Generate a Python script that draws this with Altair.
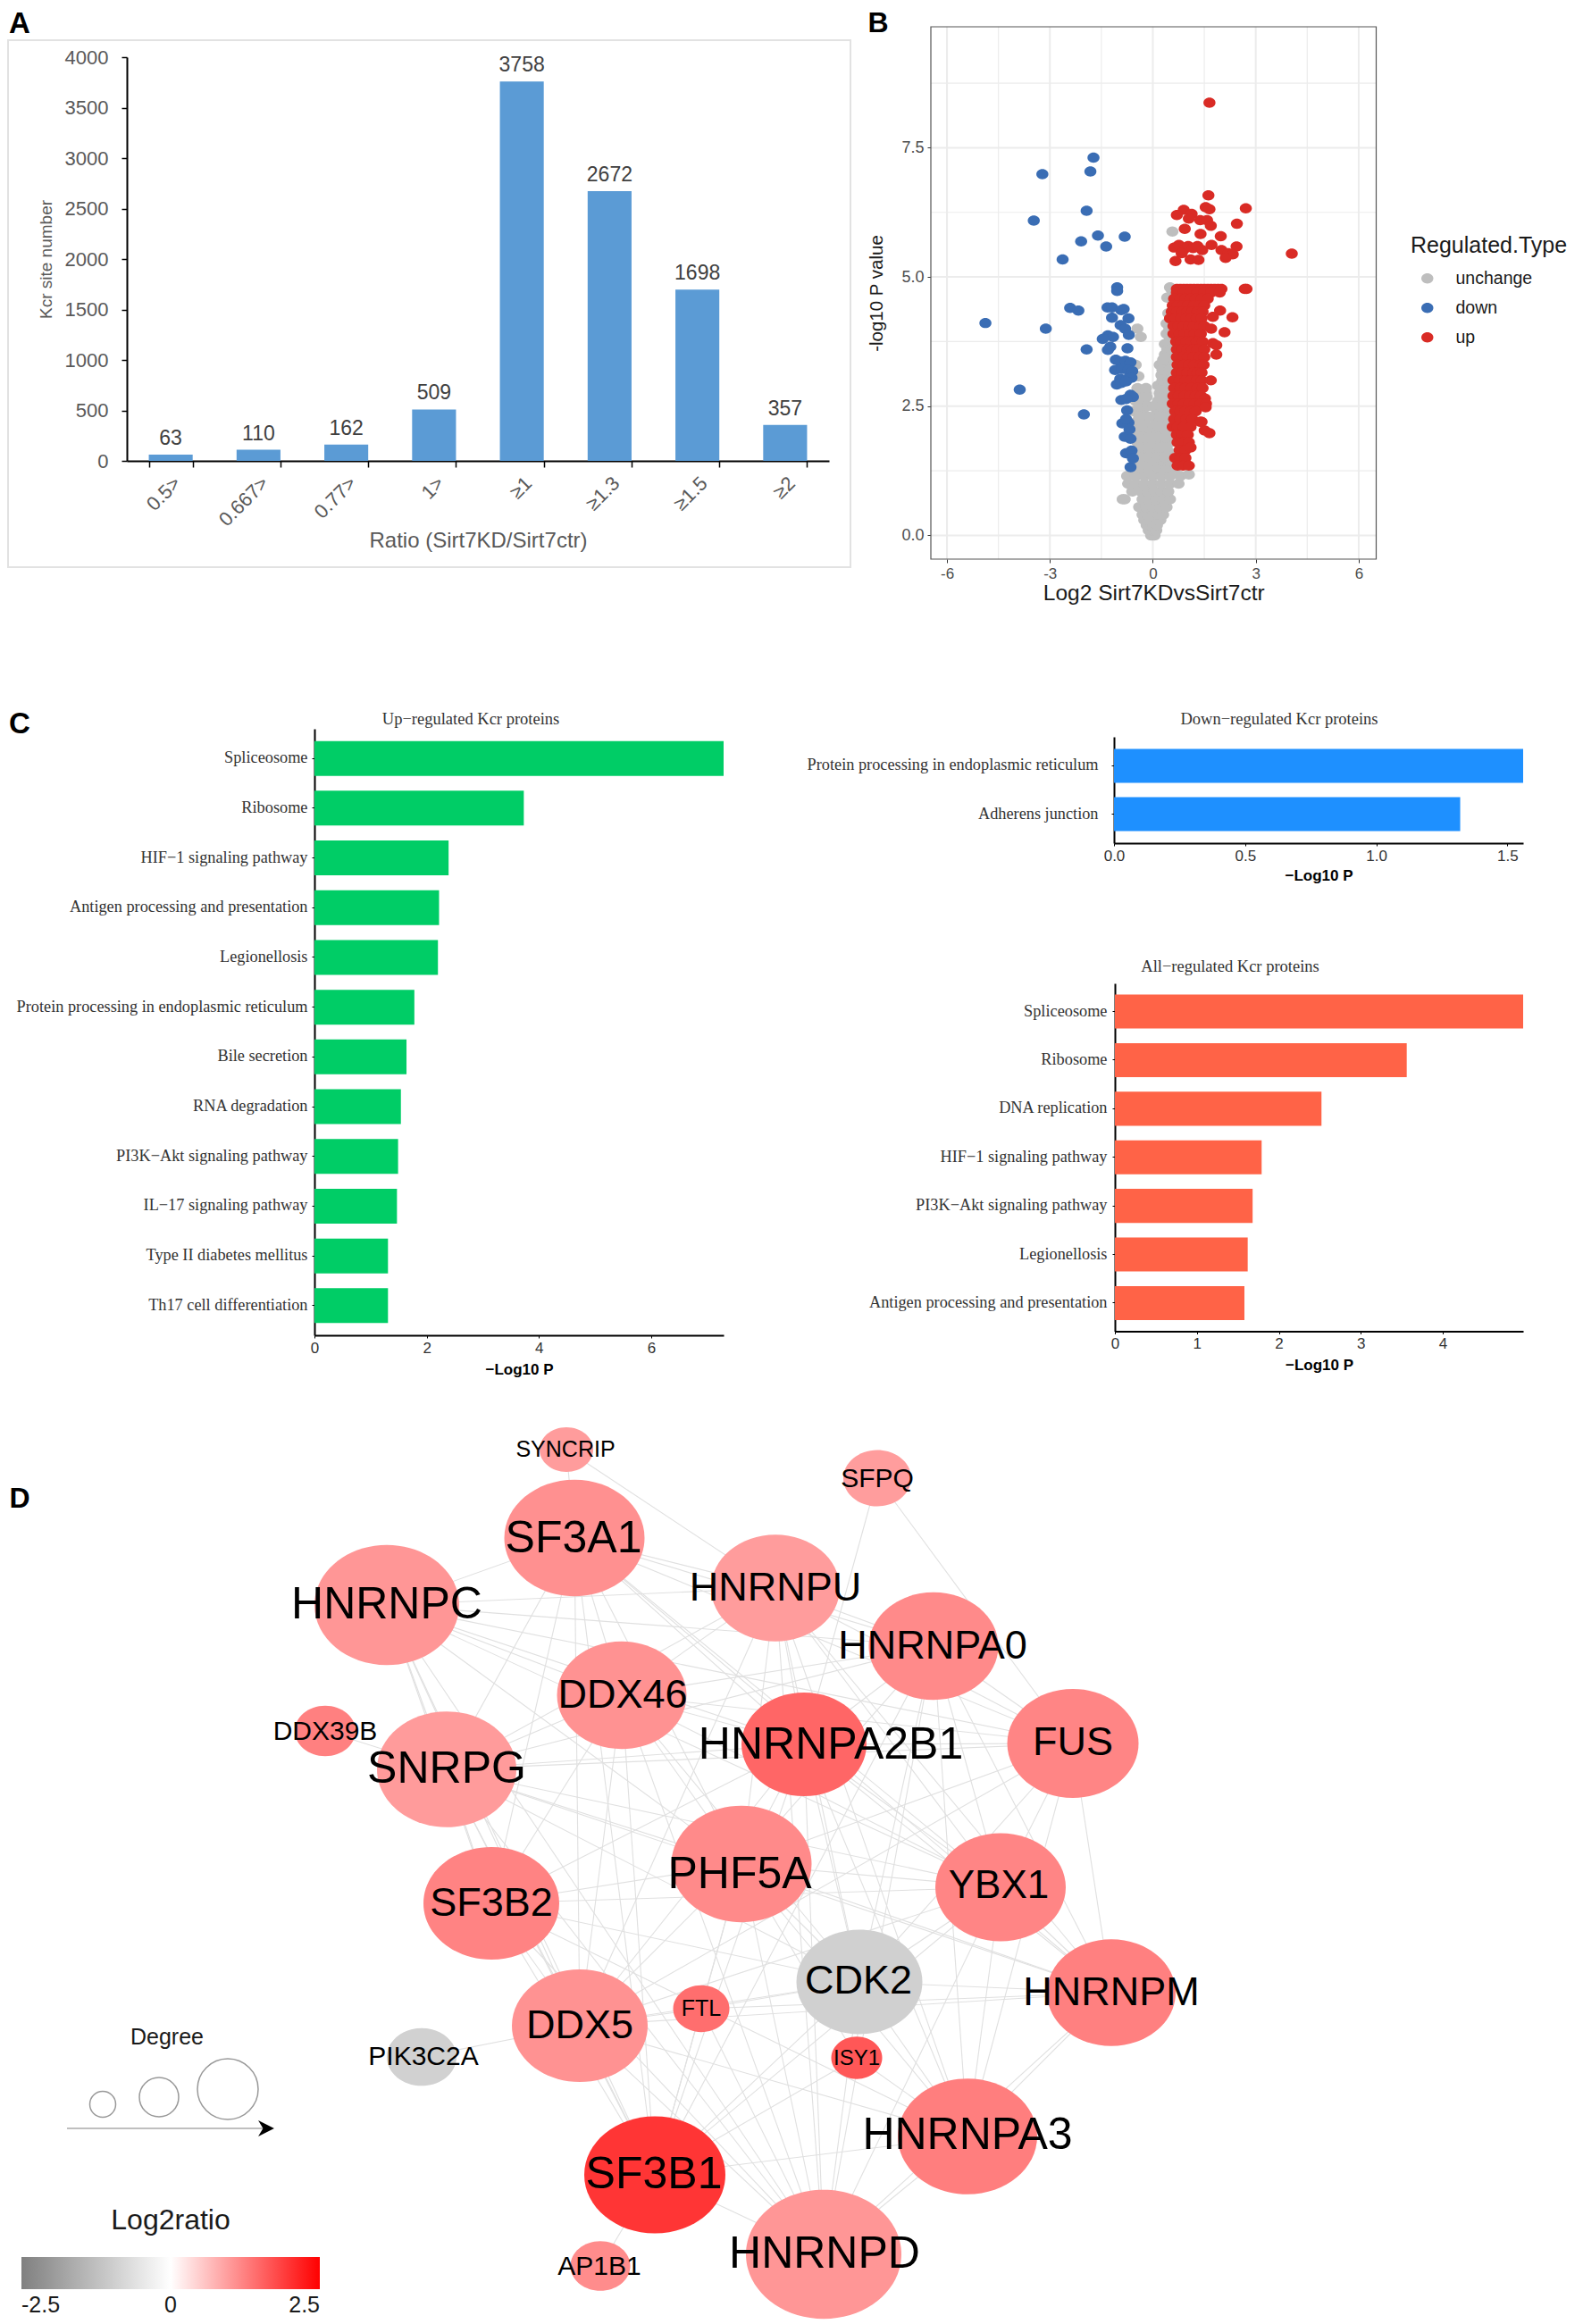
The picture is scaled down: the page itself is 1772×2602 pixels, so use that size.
import altair as alt
import pandas as pd

W, H = 1756, 2590
SANS = "Liberation Sans"
SERIF = "Liberation Serif"

# ---------- Panel A ----------
ratio_cats = ["0.5>", "0.667>", "0.77>", "1>", "≥1", "≥1.3", "≥1.5", "≥2"]
ratio_vals = [63, 110, 162, 509, 3758, 2672, 1698, 357]

# ---------- Panel B ----------
down_x = [-1.73,-1.82,-3.22,-1.93,-3.47,-1.6,-0.82,-2.09,-1.36,-2.63,-1.04,-1.04,-2.41,-2.17,-1.32,-1.19,-0.85,-0.92,-1.19,-0.71,-4.88,-3.12,-0.94,-0.81,-0.7,-1.31,-1.16,-1.46,-1.93,-1.24,-1.31,-0.74,-1.08,-0.95,-0.8,-0.65,-1.1,-0.9,-0.72,-0.6,-0.95,-0.75,-0.62,-1.05,-0.92,-0.78,-3.88,-0.92,-0.65,-0.58,-0.78,-2.01,-0.75,-0.71,-0.89,-0.78,-0.82,-0.65,-0.78,-0.62,-0.65,-0.58,-0.68]
down_y = [7.31,7.04,6.99,6.28,6.09,5.8,5.78,5.69,5.59,5.34,4.8,4.73,4.4,4.35,4.41,4.41,4.38,4.36,4.21,4.2,4.11,4.0,4.07,4.0,3.88,3.87,3.84,3.8,3.6,3.65,3.59,3.62,3.4,3.36,3.38,3.35,3.2,3.22,3.2,3.18,3.03,3.03,3.05,2.92,2.95,2.98,2.82,2.62,2.72,2.68,2.64,2.34,2.42,2.18,2.17,2.25,1.91,1.87,1.59,1.64,1.32,1.49,2.05]

up_x = [1.65,1.62,1.54,1.65,2.71,0.9,0.7,1.13,1.05,1.38,1.58,1.69,2.45,0.93,1.39,1.98,1.71,2.44,4.05,0.62,0.76,0.9,1.03,1.17,1.3,1.44,0.84,1.1,1.33,0.66,2.0,2.2,2.33,2.12,
 0.70,0.80,0.90,1.0,1.1,1.2,1.3,1.4,1.5,1.6,1.7,1.8,1.9,2.0,2.68,2.73,
 0.7,0.9,1.1,1.3,1.5,1.7,1.95,
 0.62,0.8,0.95,1.1,1.25,1.42,1.6,
 0.58,0.72,0.88,1.02,1.2,1.35,1.5,
 0.55,0.7,0.85,1.0,1.15,1.3,1.45,1.96,
 0.5,0.65,0.82,0.98,1.12,1.28,1.42,1.75,2.32,
 0.6,0.75,0.9,1.05,1.2,1.38,1.5,
 0.6,0.78,0.92,1.08,1.22,1.4,1.7,2.09,
 0.68,0.82,0.98,1.12,1.28,1.45,1.75,1.85,
 0.7,0.85,1.0,1.15,1.3,1.5,
 0.7,0.88,1.02,1.18,1.35,1.5,1.85,
 0.72,0.9,1.05,1.2,1.38,1.48,
 0.7,0.85,1.0,1.18,1.3,1.42,
 0.6,0.78,0.95,1.1,1.28,1.42,1.69,
 0.62,0.8,0.95,1.12,1.3,1.45,
 0.6,0.75,0.92,1.08,1.25,1.4,1.52,
 0.58,0.75,0.9,1.05,1.22,1.4,1.55,
 0.65,0.8,0.95,1.1,1.25,1.54,
 0.62,0.8,0.98,1.15,1.38,
 0.58,0.72,0.9,1.1,1.42,
 0.7,0.85,1.02,1.51,1.65,
 0.72,0.88,1.05,
 0.78,0.95,1.1,
 0.65,0.8,0.95,
 0.72,0.88,1.05]
up_y = [8.37,6.58,6.35,6.31,6.33,6.3,6.2,6.22,6.13,6.1,6.1,5.99,6.03,5.93,5.83,5.79,5.62,5.59,5.45,5.57,5.62,5.53,5.6,5.56,5.6,5.52,5.46,5.34,5.33,5.31,5.52,5.46,5.44,5.37,
 4.77,4.77,4.77,4.77,4.77,4.77,4.77,4.77,4.77,4.77,4.77,4.77,4.77,4.77,4.77,4.77,
 4.7,4.7,4.7,4.7,4.7,4.7,4.7,
 4.58,4.58,4.58,4.58,4.58,4.58,4.58,
 4.45,4.45,4.45,4.45,4.45,4.45,4.45,
 4.33,4.33,4.33,4.33,4.33,4.33,4.33,4.35,
 4.2,4.2,4.2,4.2,4.2,4.2,4.2,4.23,4.22,
 4.05,4.05,4.05,4.05,4.05,4.05,4.05,
 3.9,3.9,3.9,3.9,3.9,3.9,4.0,3.93,
 3.75,3.75,3.75,3.75,3.75,3.75,3.72,3.68,
 3.6,3.6,3.6,3.6,3.6,3.6,
 3.45,3.45,3.45,3.45,3.45,3.45,3.5,
 3.3,3.3,3.3,3.3,3.3,3.3,
 3.15,3.15,3.15,3.15,3.15,3.15,
 3.0,3.0,3.0,3.0,3.0,3.0,3.0,
 2.85,2.85,2.85,2.85,2.85,2.85,
 2.7,2.7,2.7,2.7,2.7,2.7,2.65,
 2.55,2.55,2.55,2.55,2.55,2.55,2.55,
 2.4,2.4,2.4,2.4,2.4,2.48,
 2.25,2.25,2.25,2.25,2.2,
 2.1,2.1,2.1,2.1,2.2,
 1.95,1.95,1.95,2.03,1.98,
 1.8,1.8,1.8,
 1.65,1.65,1.7,
 1.5,1.5,1.5,
 1.35,1.35,1.35]

flat_x = [0.57,-0.45,-0.35,-0.42,-0.5,
 -0.05,0,0.05,-0.12,-0.05,0.02,0.1,-0.18,-0.08,0.02,0.12,-0.25,-0.12,0,0.12,0.22,-0.3,-0.15,0,0.15,0.3,
 -0.4,-0.2,0,0.2,0.4,-0.88,-0.82,-0.3,-0.1,0.1,0.3,0.5,-0.6,-0.35,-0.15,0.05,0.25,0.45,
 -0.72,-0.5,-0.25,0,0.25,0.5,0.75,-0.75,-0.5,-0.25,0,0.25,0.5,0.8,1.05,
 -0.6,-0.35,-0.1,0.15,0.4,0.65,-0.5,-0.25,0,0.25,0.48,-0.42,-0.2,0.05,0.3,0.5,
 -0.45,-0.25,0,0.25,0.5,-0.5,-0.2,0.05,0.3,0.5,-0.48,-0.25,0.1,0.35,0.48,
 -0.55,-0.3,0.12,0.32,0.5,-0.5,-0.25,0.15,0.35,0.48,-0.45,-0.2,0.2,0.4,
 0.15,0.35,0.55,0.25,0.45,0.6,0.2,0.35,0.5,0.35,0.5,0.6,0.35,0.5,0.4,0.55,0.4,0.55,0.45,0.42,0.5,0.55,0.5,
 -0.3,-0.12,0.12,0.35,-0.35,-0.1,0.18,0.4,-0.32,-0.12,0.15,0.38,-0.38,-0.1,0.18,0.42,-0.4,-0.12,0.2,0.42,-0.4,-0.15,0.02,0.22,0.42,
 -0.42,-0.18,0.22,-0.45,-0.2,0.24,-0.38,-0.32,0.28,0.45,0.4,0.28,0.48,0.45,0.3,0.42,0.52,0.5,0.48,0.55]
flat_y = [5.88,4.0,3.84,3.08,3.3,
 0.0,0.0,0.0,0.1,0.1,0.1,0.1,0.2,0.2,0.2,0.2,0.3,0.3,0.3,0.3,0.3,0.4,0.4,0.4,0.4,0.4,
 0.55,0.55,0.55,0.55,0.55,0.7,0.7,0.7,0.7,0.7,0.7,0.7,0.85,0.85,0.85,0.85,0.85,0.85,
 1.0,1.0,1.0,1.0,1.0,1.0,1.0,1.15,1.15,1.15,1.15,1.15,1.15,1.15,1.18,
 1.3,1.3,1.3,1.3,1.3,1.3,1.45,1.45,1.45,1.45,1.45,1.6,1.6,1.6,1.6,1.6,
 1.8,1.8,1.8,1.8,1.8,2.0,2.0,2.0,2.0,2.0,2.2,2.2,2.2,2.2,2.2,
 2.4,2.4,2.4,2.4,2.4,2.6,2.6,2.6,2.6,2.6,2.75,2.75,2.75,2.75,
 2.9,2.9,2.9,3.1,3.1,3.1,3.3,3.3,3.3,3.5,3.5,3.5,3.7,3.7,3.9,3.9,4.1,4.1,4.3,4.6,4.6,4.75,4.8,
 1.52,1.52,1.52,1.52,1.7,1.7,1.7,1.7,1.9,1.9,1.9,1.9,2.1,2.1,2.1,2.1,2.3,2.3,2.3,2.3,2.5,2.5,2.5,2.5,2.5,
 2.65,2.68,2.7,2.85,2.85,2.85,2.3,2.1,3.0,3.0,3.2,3.2,3.2,3.4,3.4,3.6,3.6,3.8,4.0,4.2]

grid_major_x = [-6, -3, 0, 3, 6]
grid_minor_x = [-4.5, -1.5, 1.5, 4.5]
grid_major_y = [0, 2.5, 5, 7.5]
grid_minor_y = [1.25, 3.75, 6.25, 8.75]

# ---------- Panel C ----------
up_terms = ["Spliceosome", "Ribosome", "HIF−1 signaling pathway", "Antigen processing and presentation", "Legionellosis",
            "Protein processing in endoplasmic reticulum", "Bile secretion", "RNA degradation", "PI3K−Akt signaling pathway",
            "IL−17 signaling pathway", "Type II diabetes mellitus", "Th17 cell differentiation"]
up_vals = [7.29, 3.73, 2.39, 2.22, 2.2, 1.78, 1.64, 1.54, 1.49, 1.47, 1.31, 1.31]
dn_terms = ["Protein processing in endoplasmic reticulum", "Adherens junction"]
dn_vals = [1.56, 1.32]
all_terms = ["Spliceosome", "Ribosome", "DNA replication", "HIF−1 signaling pathway", "PI3K−Akt signaling pathway",
             "Legionellosis", "Antigen processing and presentation"]
all_vals = [4.98, 3.56, 2.52, 1.79, 1.68, 1.62, 1.58]

# ---------- Panel D (network layout coordinates) ----------
node_names = ["SYNCRIP","SF3A1","HNRNPC","DDX46","DDX39B","SNRPG","SF3B2","DDX5","FTL","PIK3C2A","SF3B1","AP1B1","SFPQ",
              "HNRNPU","HNRNPA0","HNRNPA2B1","FUS","PHF5A","YBX1","CDK2","HNRNPM","ISY1","HNRNPA3","HNRNPD"]
node_x = [634,643,433,696,364,500,550,649,785,472,733,672,982,868,1045,900,1201,830,1120,962,1244,959,1083,922]
node_y = [1623,1722,1797,1898,1938,1981,2131,2268,2249,2303,2435,2537,1655,1778,1843,1953,1952,2087,2113,2219,2231,2304,2392,2524]
node_w = [60,157,162,145,68,156,152,152,63,78,158,67,76,144,145,140,147,157,146,141,144,57,156,174]
node_log2 = [0.97,1.09,1.03,1.07,1.25,0.98,1.22,1.07,1.42,-0.9,1.98,1.13,0.96,0.97,1.15,1.5,1.2,1.15,1.2,-0.93,1.25,1.65,1.26,1.03]
label_x = [633,642,433,697,364,500,550,649,785,474,732,671,982,868,1044,930,1201,828,1118,961,1244,959,1083,923]
label_y = [1623,1723,1797,1898,1939,1981,2131,2268,2249,2303,2435,2538,1656,1778,1843,1954,1951,2099,2112,2218,2231,2305,2391,2524]
label_fs = [25,50,50,45,30,50,45,45,25,30,50,30,30,45,45,50,45,50,44,45,45,24,50,50]

edges = {
 "SYNCRIP": ["HNRNPU","SF3A1"],
 "SFPQ": ["HNRNPA2B1","FUS"],
 "PIK3C2A": ["DDX5"],
 "AP1B1": ["SF3B1"],
 "DDX39B": ["SNRPG"],
 "FTL": ["DDX5","SF3B1","PHF5A","HNRNPD","CDK2","HNRNPM"],
 "ISY1": ["SF3B1","CDK2","HNRNPA3","PHF5A"],
 "SF3A1": ["HNRNPC","HNRNPU","HNRNPA0","DDX46","HNRNPA2B1","SNRPG","SF3B2","PHF5A","DDX5","YBX1","SF3B1","FUS","HNRNPM"],
 "HNRNPC": ["HNRNPU","DDX46","SNRPG","SF3B2","HNRNPA2B1","PHF5A","DDX5","YBX1","HNRNPA0","FUS","SF3B1","HNRNPD"],
 "HNRNPU": ["HNRNPA0","DDX46","HNRNPA2B1","FUS","SNRPG","PHF5A","YBX1","CDK2","DDX5","HNRNPM","HNRNPD","HNRNPA3"],
 "HNRNPA0": ["HNRNPA2B1","FUS","YBX1","PHF5A","SNRPG","CDK2","DDX46","HNRNPM","HNRNPD","SF3B1","HNRNPA3"],
 "DDX46": ["HNRNPA2B1","SNRPG","SF3B2","PHF5A","DDX5","CDK2","YBX1","SF3B1","FUS","HNRNPD"],
 "HNRNPA2B1": ["FUS","SNRPG","PHF5A","YBX1","CDK2","DDX5","SF3B2","HNRNPM","HNRNPA3","HNRNPD","SF3B1"],
 "FUS": ["YBX1","PHF5A","SNRPG","HNRNPM","CDK2","HNRNPA3","DDX5"],
 "SNRPG": ["SF3B2","PHF5A","DDX5","YBX1","SF3B1","CDK2","HNRNPD","HNRNPM"],
 "SF3B2": ["PHF5A","DDX5","SF3B1","YBX1","CDK2","HNRNPD","HNRNPA3"],
 "PHF5A": ["YBX1","CDK2","DDX5","SF3B1","HNRNPM","HNRNPA3","HNRNPD"],
 "YBX1": ["CDK2","HNRNPM","HNRNPA3","HNRNPD","DDX5","SF3B1"],
 "CDK2": ["DDX5","HNRNPM","HNRNPA3","HNRNPD","SF3B1"],
 "HNRNPM": ["HNRNPA3","HNRNPD","DDX5"],
 "DDX5": ["SF3B1","HNRNPD","HNRNPA3"],
 "HNRNPA3": ["HNRNPD","SF3B1"],
 "SF3B1": ["HNRNPD"],
}

degree_x = [115, 178, 255]
degree_y = [2356, 2348, 2339]
degree_w = [29, 44, 68]
arrow_x = [75, 305]
arrow_y = [2383, 2383]
head_x = [298]
head_y = [2383]

# ---------- helpers ----------
def px(v):
    return v - 8

def note(text, x, y, size, font=SANS, weight="normal", color="#000000", align="center"):
    d = pd.DataFrame({"t": [text]})
    return alt.Chart(d).mark_text(font=font, fontSize=size, fontWeight=weight, color=color,
                                  align=align, baseline="middle").encode(
        text="t:N", x=alt.value(px(x)), y=alt.value(px(y)))

def bar_panel(terms, vals, color, xl, xr, yt, yb, dmax, ticks, fmt, po, padding, title_pad):
    d = pd.DataFrame({"term": terms, "v": vals})
    x = alt.X("v:Q", scale=alt.Scale(domain=[0, dmax], range=[px(xl), px(xr)], nice=False, zero=True),
              axis=alt.Axis(orient="bottom", offset=px(yb) - H, values=ticks, format=fmt, grid=False,
                            title="−Log10 P", titleFont=SANS, titleFontSize=17, titleFontWeight="bold",
                            titleColor="#000000", titlePadding=title_pad, labelFont=SANS, labelFontSize=17,
                            labelColor="#333333", labelPadding=3, tickSize=3, tickColor="#000000",
                            domainColor="#000000", domainWidth=2, labelOverlap=False, labelFlush=False))
    y = alt.Y("term:N", scale=alt.Scale(domain=terms, range=[px(yt), px(yb)], paddingInner=0.3, paddingOuter=po),
              axis=alt.Axis(orient="left", offset=-px(xl), title=None, grid=False, labelFont=SERIF, labelFontSize=18.3,
                            labelColor="#333333", labelPadding=padding, tickSize=3, tickColor="#000000",
                            domainColor="#000000", domainWidth=2, labelLimit=500, labelOverlap=False))
    return alt.Chart(d).mark_bar(color=color).encode(x=x, y=y)

# ---------- A ----------
df_a = pd.DataFrame({"cat": ratio_cats, "n": ratio_vals})
a_xs = alt.Scale(domain=ratio_cats, range=[px(142), px(928)], paddingInner=0.5, paddingOuter=0.25)
a_ys = alt.Scale(domain=[0, 4000], range=[px(516), px(64)], nice=False)
a_x = alt.X("cat:N", scale=a_xs,
            axis=alt.Axis(orient="bottom", offset=px(516) - H, title="Ratio (Sirt7KD/Sirt7ctr)", titleFont=SANS,
                          titleFontSize=24, titleFontWeight="normal", titleColor="#595959", titlePadding=1,
                          labelFont=SANS, labelFontSize=22, labelColor="#595959", labelAngle=-45,
                          labelAlign="right", labelBaseline="top", labelPadding=7, tickBand="extent", tickSize=7,
                          tickColor="#000000", tickWidth=1.5, domainColor="#000000", domainWidth=2, grid=False,
                          labelOverlap=False))
a_y = alt.Y("n:Q", scale=a_ys,
            axis=alt.Axis(orient="left", offset=-px(142), values=list(range(0, 4001, 500)), title="Kcr site number",
                          format="d", titleFont=SANS, titleFontSize=19, titleFontWeight="normal", titleColor="#595959",
                          titlePadding=11, labelFont=SANS, labelFontSize=22, labelColor="#595959", labelPadding=15,
                          tickSize=6, tickColor="#000000", tickWidth=1.5, domainColor="#000000", domainWidth=2, grid=False))
a_bars = alt.Chart(df_a).mark_bar(color="#5b9bd5").encode(x=a_x, y=a_y)
a_text = alt.Chart(df_a).mark_text(font=SANS, fontSize=23, color="#404040", baseline="middle", dy=-18).encode(
    x=alt.X("cat:N", scale=a_xs, axis=None), y=alt.Y("n:Q", scale=a_ys, axis=None), text="n:Q")
a_frame = alt.Chart(pd.DataFrame({"a": [1]})).mark_rect(fillOpacity=0, stroke="#e2e2e2", strokeWidth=2).encode(
    x=alt.value(px(9)), x2=alt.value(px(952)), y=alt.value(px(45)), y2=alt.value(px(635)))

# ---------- B ----------
xdom, ydom = [-6.47, 6.51], [-0.458, 9.84]
b_xs = alt.Scale(domain=xdom, range=[px(1042), px(1540.5)], nice=False, zero=False)
b_ys = alt.Scale(domain=ydom, range=[px(626), px(30)], nice=False, zero=False)
df_b = pd.concat([
    pd.DataFrame({"lx": flat_x, "ly": flat_y, "type": "unchange"}),
    pd.DataFrame({"lx": down_x, "ly": down_y, "type": "down"}),
    pd.DataFrame({"lx": up_x, "ly": up_y, "type": "up"}),
], ignore_index=True)

def grid_rows(xs, ys):
    rows = [{"a": v, "a2": v, "b": ydom[0], "b2": ydom[1]} for v in xs]
    rows += [{"a": xdom[0], "a2": xdom[1], "b": v, "b2": v} for v in ys]
    return pd.DataFrame(rows)

def grid_layer(xs, ys, w):
    return alt.Chart(grid_rows(xs, ys)).mark_rule(color="#ececec", strokeWidth=w).encode(
        x=alt.X("a:Q", scale=b_xs, axis=None), x2="a2:Q",
        y=alt.Y("b:Q", scale=b_ys, axis=None), y2="b2:Q")

DOT = "M-1,0A1,0.85,0,1,1,1,0A1,0.85,0,1,1,-1,0Z"
b_points = alt.Chart(df_b).mark_point(shape=DOT, filled=True, size=182, opacity=1, strokeWidth=0).encode(
    x=alt.X("lx:Q", scale=b_xs,
            axis=alt.Axis(orient="bottom", offset=px(626) - H, values=grid_major_x, title="Log2 Sirt7KDvsSirt7ctr",
                          labelExpr="replace(datum.label,'−','-')", titleFont=SANS, titleFontSize=24.5,
                          titleFontWeight="normal", titleColor="#1a1a1a", titlePadding=2, labelFont=SANS,
                          labelFontSize=17, labelColor="#4d4d4d", labelPadding=4, tickSize=4, tickColor="#333333",
                          domain=False, grid=False, labelOverlap=False)),
    y=alt.Y("ly:Q", scale=b_ys,
            axis=alt.Axis(orient="left", offset=-px(1042), values=grid_major_y, format=".1f", title="-log10 P value",
                          titleFont=SANS, titleFontSize=20.5, titleFontWeight="normal", titleColor="#1a1a1a",
                          titlePadding=17, labelFont=SANS, labelFontSize=18, labelColor="#4d4d4d", labelPadding=4,
                          tickSize=4, tickColor="#333333", domain=False, grid=False, labelOverlap=False)),
    color=alt.Color("type:N",
                    scale=alt.Scale(domain=["unchange", "down", "up"], range=["#bebebe", "#3a6db4", "#d92b25"]),
                    legend=alt.Legend(orient="none", legendX=px(1579), legendY=px(263), title="Regulated.Type",
                                      titleFont=SANS, titleFontSize=25, titleFontWeight="normal", titleColor="#1a1a1a",
                                      titlePadding=14, labelFont=SANS, labelFontSize=19.5, labelColor="#1a1a1a",
                                      symbolType=DOT, symbolSize=180, symbolOffset=9, labelOffset=22,
                                      rowPadding=12, padding=0, symbolStrokeWidth=0)),
)
b_frame = alt.Chart(pd.DataFrame({"a": [xdom[0]], "a2": [xdom[1]], "b": [ydom[0]], "b2": [ydom[1]]})).mark_rect(
    fillOpacity=0, stroke="#555555", strokeWidth=1.2).encode(
    x=alt.X("a:Q", scale=b_xs, axis=None), x2="a2:Q",
    y=alt.Y("b:Q", scale=b_ys, axis=None), y2="b2:Q")

# ---------- C ----------
panel_up = bar_panel(up_terms, up_vals, "#00cd66", 352, 810, 816, 1495, 7.29, [0, 2, 4, 6], "d", 0.245, 5, 8)
panel_dn = bar_panel(dn_terms, dn_vals, "#1e90ff", 1247, 1705, 825, 944, 1.56, [0, 0.5, 1.0, 1.5], ".1f", 0.25, 15, 6)
panel_al = bar_panel(all_terms, all_vals, "#ff6347", 1248, 1705, 1101, 1490.5, 4.98, [0, 1, 2, 3, 4], "d", 0.23, 6, 8)

# ---------- D ----------
idx = {n: i for i, n in enumerate(node_names)}
edge_rows = []
for a, nbrs in edges.items():
    for b in nbrs:
        edge_rows.append({"x1": node_x[idx[a]], "y1": node_y[idx[a]], "x2": node_x[idx[b]], "y2": node_y[idx[b]]})
df_e = pd.DataFrame(edge_rows)
df_n = pd.DataFrame({"name": node_names, "nx": node_x, "ny": node_y, "sz": [w * w for w in node_w], "log2": node_log2})
df_l = pd.DataFrame({"name": node_names, "tx": label_x, "ty": label_y, "fs": label_fs})
df_deg = pd.DataFrame({"nx": degree_x, "ny": degree_y, "sz": [w * w for w in degree_w]})
df_arrow = pd.DataFrame({"nx": arrow_x, "ny": arrow_y})
df_head = pd.DataFrame({"nx": head_x, "ny": head_y})

d_xs = alt.Scale(domain=[8, 8 + W], range=[0, W], nice=False, zero=False)
d_ys = alt.Scale(domain=[8, 8 + H], range=[0, H], nice=False, zero=False)
ELLIPSE = "M-1,0A1,0.83,0,1,1,1,0A1,0.83,0,1,1,-1,0Z"
CIRCLE = "M-1,0A1,1,0,1,1,1,0A1,1,0,1,1,-1,0Z"
ARROWHEAD = "M-1,-1L1,0L-1,1L-0.4,0Z"

def dx(f):
    return alt.X(f, scale=d_xs, axis=None)

def dy(f):
    return alt.Y(f, scale=d_ys, axis=None)

d_edges = alt.Chart(df_e).mark_rule(color="#e0e0e0", strokeWidth=1.1).encode(
    x=dx("x1:Q"), x2="x2:Q", y=dy("y1:Q"), y2="y2:Q")
d_nodes = alt.Chart(df_n).mark_point(shape=ELLIPSE, filled=True, opacity=1, strokeWidth=0).encode(
    x=dx("nx:Q"), y=dy("ny:Q"), size=alt.Size("sz:Q", scale=None, legend=None),
    color=alt.Color("log2:Q",
                    scale=alt.Scale(domain=[-2.5, 0, 2.5], range=["#808080", "#ffffff", "#ff0000"], interpolate="rgb"),
                    legend=alt.Legend(orient="none", legendX=px(24), legendY=px(2471), direction="horizontal",
                                      title="Log2ratio", titleFont=SANS, titleFontSize=32,
                                      titleFontWeight="normal", titleColor="#1a1a1a", titleAnchor="middle",
                                      titlePadding=24, gradientLength=334, gradientThickness=36,
                                      values=[-2.5, 0, 2.5], labelFont=SANS, labelFontSize=25,
                                      labelColor="#1a1a1a", labelExpr="replace(format(datum.value,'~g'),'−','-')",
                                      padding=0, labelOffset=6)))
d_labels = alt.Chart(df_l).mark_text(font=SANS, color="#000000", baseline="middle", align="center").encode(
    x=dx("tx:Q"), y=dy("ty:Q"), text="name:N", size=alt.Size("fs:Q", scale=None, legend=None))
d_degree = alt.Chart(df_deg).mark_point(shape=CIRCLE, filled=False, color="#999999", strokeWidth=1.5, opacity=1).encode(
    x=dx("nx:Q"), y=dy("ny:Q"), size=alt.Size("sz:Q", scale=None, legend=None))
d_arrow = alt.Chart(df_arrow).mark_line(color="#aaaaaa", strokeWidth=1.5).encode(x=dx("nx:Q"), y=dy("ny:Q"))
d_head = alt.Chart(df_head).mark_point(shape=ARROWHEAD, filled=True, color="#000000", opacity=1, size=320, strokeWidth=0).encode(
    x=dx("nx:Q"), y=dy("ny:Q"))

# ---------- annotations ----------
notes = [
    note("A", 22, 27, 33, weight="bold"),
    note("B", 983, 26, 32, weight="bold"),
    note("C", 22, 811, 33, weight="bold"),
    note("D", 22, 1678, 32, weight="bold"),
    note("Up−regulated Kcr proteins", 527, 805, 18.5, font=SERIF, color="#333333"),
    note("Down−regulated Kcr proteins", 1432, 805, 18.5, font=SERIF, color="#333333"),
    note("All−regulated Kcr proteins", 1377, 1082, 18.5, font=SERIF, color="#333333"),
    note("Degree", 187, 2281, 25, color="#1a1a1a"),
]

chart = alt.layer(
    a_frame, a_bars, a_text,
    grid_layer(grid_minor_x, grid_minor_y, 1.2), grid_layer(grid_major_x, grid_major_y, 2), b_points, b_frame,
    panel_up, panel_dn, panel_al,
    d_edges, d_nodes, d_labels, d_degree, d_arrow, d_head,
    *notes,
).resolve_scale(
    x="independent", y="independent", color="independent", size="independent"
).properties(width=W, height=H, padding=0, autosize=alt.AutoSizeParams(type="none")).configure_view(stroke=None)

chart.save("out.html", embed_options={"renderer": "svg", "actions": False})
